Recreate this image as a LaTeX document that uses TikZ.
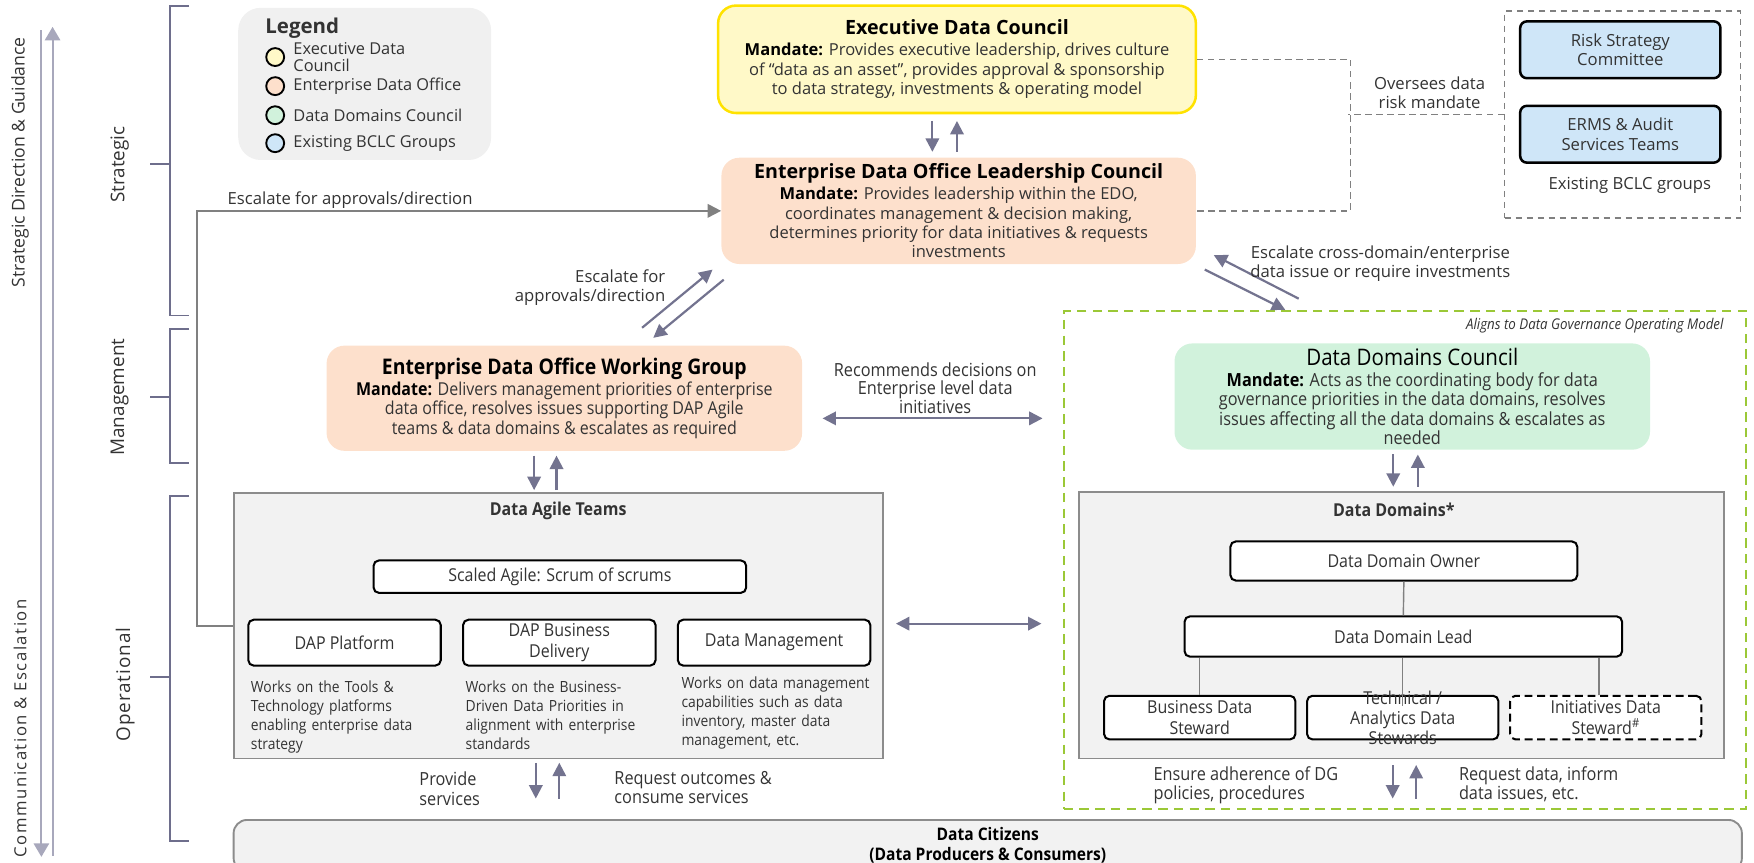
\documentclass[tikz,border=0pt]{standalone}
\usepackage{fontspec}
\setmainfont{Open Sans}
\newfontfamily\narrowfont[FakeStretch=0.9]{Open Sans}
\usetikzlibrary{arrows.meta,calc,positioning}

\definecolor{edcyellow}{RGB}{255,249,200}
\definecolor{edcborder}{RGB}{255,226,0}
\definecolor{edopeach}{RGB}{253,224,204}
\definecolor{ddcgreen}{RGB}{209,242,220}
\definecolor{bclcblue}{RGB}{207,230,248}
\definecolor{panelgrey}{RGB}{242,242,242}
\definecolor{legendgrey}{RGB}{240,240,240}
\definecolor{panelborder}{RGB}{140,140,140}
\definecolor{arrowslate}{RGB}{115,115,143}
\definecolor{bracketslate}{RGB}{110,110,140}
\definecolor{longarrow}{RGB}{168,168,188}
\definecolor{dashgrey}{RGB}{128,128,128}
\definecolor{govgreen}{RGB}{155,200,55}
\definecolor{textdark}{RGB}{51,51,51}

\begin{document}
\begin{tikzpicture}[x=0.025cm,y=-0.025cm,>={Triangle[length=0.3cm,width=0.3cm]}]
    \tikzstyle{council}=[rectangle,rounded corners=0.4cm,inner sep=0pt,align=center,
    text=textdark,minimum width=10.6cm,minimum height=2.375cm,font=\fontsize{10.5}{12.3}\selectfont]
    \tikzstyle{panel}=[rectangle,fill=panelgrey,draw=panelborder,line width=1.2pt,inner sep=0pt]
    \tikzstyle{unit}=[rectangle,rounded corners=0.12cm,draw=black,line width=1.3pt,fill=white,
    inner sep=0pt,align=center,text=textdark,font=\narrowfont\fontsize{11.3}{12.8}\selectfont]
    \tikzstyle{desc}=[anchor=north west,inner sep=0pt,text width=4.4cm,align=left,
    text=textdark,font=\narrowfont\fontsize{9.8}{12.1}\selectfont]
    \tikzstyle{txt}=[inner sep=0pt,align=center,text=textdark,font=\fontsize{10.6}{12}\selectfont]
    \tikzstyle{ntxt}=[inner sep=0pt,align=left,text=textdark,font=\narrowfont\fontsize{11.5}{12.3}\selectfont]
    \tikzstyle{arr}=[->,draw=arrowslate,line width=1.4pt]
    \tikzstyle{arr2}=[<->,draw=arrowslate,line width=1.4pt]
    \tikzstyle{esc}=[->,draw=dashgrey,line width=1.3pt]
    \tikzstyle{dgrey}=[draw=dashgrey,line width=0.9pt,dash pattern=on 4pt off 3pt]
    \tikzstyle{longarr}=[-{Triangle[length=0.3cm,width=0.34cm]},draw=longarrow,line width=1.3pt]
    \tikzstyle{bracket}=[draw=bracketslate,line width=1.2pt]
    \tikzstyle{tier}=[rotate=90,inner sep=0pt,text=textdark,font=\fontsize{12}{14}\selectfont]
    \tikzstyle{side}=[rotate=90,inner sep=0pt,text=textdark,font=\fontsize{11.2}{13}\selectfont]
    \tikzstyle{legdot}=[circle,draw=black,line width=1.2pt,minimum size=0.4cm,inner sep=0pt]
    \tikzstyle{legtxt}=[inner sep=0pt,align=left,text=textdark,font=\fontsize{10.4}{10.5}\selectfont]
    \tikzstyle{member}=[rectangle,rounded corners=0.15cm,fill=bclcblue,draw=black,line width=1.6pt,
    inner sep=0pt,align=center,minimum width=4.475cm,minimum height=1.27cm,text=textdark,
    font=\fontsize{10.6}{12.5}\selectfont]
    \tikzstyle{steward}=[unit,minimum width=4.275cm,minimum height=0.975cm]
    \tikzstyle{tree}=[draw=dashgrey,line width=0.9pt]

    \useasboundingbox (0,0) rectangle (1568,771);

    % direction arrows on the far left
    \coordinate (guide_bot) at (47,765);
    \coordinate (guide_top) at (47,24);
    \coordinate (comm_top) at (37,27);
    \coordinate (comm_bot) at (37,766);
    \draw[longarr] (guide_bot) -- (guide_top);
    \draw[longarr] (comm_top) -- (comm_bot);
    \node[side](guide) at (18,145) {Strategic Direction \& Guidance};
    \node[side,font=\fontsize{10.6}{12}\selectfont\addfontfeature{LetterSpace=9}](comm) at (18,651) {Communication \& Escalation};

    % tiers
    \draw[bracket] (169,5) -- (152,5) -- (152,282) -- (169,282);
    \draw[bracket] (152,147) -- (134,147);
    \node[tier](strategic) at (107,147) {Strategic};
    \draw[bracket] (169,294) -- (152,294) -- (152,414) -- (169,414);
    \draw[bracket] (152,355) -- (134,355);
    \node[tier](management) at (107,355) {Management};
    \draw[bracket] (169,443) -- (152,443) -- (152,752) -- (169,752);
    \draw[bracket] (152,605) -- (134,605);
    \node[tier,font=\fontsize{12}{14}\selectfont\addfontfeature{LetterSpace=5}](operational) at (112,612) {Operational};

    % legend
    \node[rectangle,rounded corners=0.5cm,fill=legendgrey,minimum width=5.65cm,minimum height=3.4cm](legend) at (326,75) {};
    \node[inner sep=0pt,anchor=west,font=\fontsize{13}{15}\selectfont\bfseries,text=textdark](leg_title) at (237,25) {Legend};
    \node[legdot,fill=edcyellow](leg_edc) at (246,51) {};
    \node[legtxt,right=0.18cm of leg_edc](leg_edc_txt) {Executive Data\\Council};
    \node[legdot,fill=edopeach](leg_edo) at (246,77) {};
    \node[legtxt,right=0.18cm of leg_edo](leg_edo_txt) {Enterprise Data Office};
    \node[legdot,fill=ddcgreen](leg_ddc) at (246,103) {};
    \node[legtxt,right=0.18cm of leg_ddc](leg_ddc_txt) {Data Domains Council};
    \node[legdot,fill=bclcblue](leg_bclc) at (246,128) {};
    \node[legtxt,right=0.18cm of leg_bclc](leg_bclc_txt) {Existing BCLC Groups};

    % councils
    \node[council,fill=edcyellow,draw=edcborder,line width=1.6pt,minimum width=10.675cm,minimum height=2.4cm](edc) at (855.5,53)
    {{\fontsize{12.5}{15}\selectfont\bfseries\color{black}Executive Data Council}\\[1pt]
    {\color{black}\bfseries Mandate:} Provides executive leadership, drives culture\\
    of “data as an asset”, provides approval \& sponsorship\\
    to data strategy, investments \& operating model};
    \node[council,fill=edopeach](edolc) at (857,188.5)
    {{\fontsize{12.5}{15}\selectfont\bfseries\color{black}Enterprise Data Office Leadership Council}\\[1pt]
    {\color{black}\bfseries Mandate:} Provides leadership within the EDO,\\
    coordinates management \& decision making,\\
    determines priority for data initiatives \& requests\\
    investments};
    \node[council,fill=edopeach,minimum width=10.625cm,minimum height=2.35cm,font=\narrowfont\fontsize{11.3}{12.4}\selectfont](edowg) at (504.5,356)
    {{\fontsize{13.7}{16}\selectfont\bfseries\color{black}Enterprise Data Office Working Group}\\[1pt]
    {\color{black}\bfseries Mandate:} Delivers management priorities of enterprise\\
    data office, resolves issues supporting DAP Agile\\
    teams \& data domains \& escalates as required};

    % existing BCLC groups
    \node[rectangle,dgrey,minimum width=5.275cm,minimum height=4.625cm](bclc) at (1450.5,102.5) {};
    \node[member](risk) at (1448.5,44.5) {Risk Strategy\\Committee};
    \node[member](erms) at (1448.5,120) {ERMS \& Audit\\Services Teams};
    \node[txt](bclc_lbl) at (1457,166) {Existing BCLC groups};
    \draw[dgrey] (edc.east) -- ++(137,0) |- (edolc.east);
    \draw[dgrey] (bclc.west) -- ++(-139,0);
    \node[txt](oversee) at (1278,83) {Oversees data\\risk mandate};

    % data governance side
    \node[rectangle,draw=govgreen,line width=1.3pt,dash pattern=on 6pt off 4pt,minimum width=15.25cm,minimum height=11.125cm](gdg) at (1256,500.5) {};
    \node[ntxt,anchor=east,font=\narrowfont\itshape\fontsize{9.4}{11}\selectfont](gdg_lbl) at (1541,291) {Aligns to Data Governance Operating Model};
    \node[council,fill=ddcgreen,minimum width=10.625cm,font=\narrowfont\fontsize{11.5}{12.3}\selectfont](ddc) at (1262.5,354.5)
    {{\fontsize{14.5}{16}\selectfont\color{black}Data Domains Council}\\[1pt]
    {\color{black}\bfseries Mandate:} Acts as the coordinating body for data\\
    governance priorities in the data domains, resolves\\
    issues affecting all the data domains \& escalates as\\
    needed};

    \node[panel,minimum width=14.4cm,minimum height=5.95cm](dd) at (1253,559) {};
    \node[ntxt,font=\narrowfont\bfseries\fontsize{11.3}{13}\selectfont](dd_title) at (1246,456) {Data Domains*};
    \node[unit,minimum width=7.75cm,minimum height=0.875cm](ddo) at (1255,501.5) {Data Domain Owner};
    \node[unit,minimum width=9.775cm,minimum height=0.9cm](ddl) at (1254.5,569) {Data Domain Lead};
    \node[steward](bds) at (1072.5,641.5) {Business Data\\Steward};
    \node[steward](tech) at (1254,641.5) {};
    \node[ntxt,align=center,font=\narrowfont\fontsize{11.3}{12.8}\selectfont](tech_txt) at (tech) {Technical /\\Analytics Data\\Stewards};
    \node[steward,dash pattern=on 5pt off 3pt](init) at (1435.5,641.5) {Initiatives Data\\Steward\textsuperscript{\#}};
    \draw[tree] (ddo.south) -- (ddl.north);
    \draw[tree] (ddl.south -| bds.north) -- (bds.north);
    \draw[tree] (ddl.south -| tech.north) -- ($(tech.north)+(0,10)$);
    \draw[tree] ($(ddl.south -| init.north)+(-6,0)$) -- ($(init.north)+(-6,0)$);

    % data agile teams
    \node[panel,minimum width=14.5cm,minimum height=5.925cm](dat) at (499,559.5) {};
    \node[ntxt,font=\narrowfont\bfseries\fontsize{11.3}{13}\selectfont](dat_title) at (499,457) {Data Agile Teams};
    \node[unit,minimum width=8.325cm,minimum height=0.725cm](safe) at (500.5,515.5) {Scaled Agile: Scrum of scrums};
    \node[unit,minimum width=4.3cm,minimum height=1.025cm](dap_plat) at (308,574.5) {DAP Platform};
    \node[unit,minimum width=4.3cm,minimum height=1.025cm](dap_bus) at (500,574.5) {DAP Business\\Delivery};
    \node[unit,minimum width=4.3cm,minimum height=1.025cm](data_mgmt) at (692,574.5) {Data Management};
    \node[desc](dap_plat_txt) at (224,608) {Works on the Tools \&\\Technology platforms\\enabling enterprise data\\strategy};
    \node[desc](dap_bus_txt) at (416,608) {Works on the Business-\\Driven Data Priorities in\\alignment with enterprise\\standards};
    \node[desc](data_mgmt_txt) at (609,605) {Works on data management\\capabilities such as data\\inventory, master data\\management, etc.};

    % data citizens
    \node[panel,rounded corners=0.3cm,minimum width=33.7cm,minimum height=1.15cm,align=center,
    font=\narrowfont\bfseries\fontsize{11}{12.8}\selectfont](citizens) at (883,756) {Data Citizens\\(Data Producers \& Consumers)};

    % escalation paths
    \draw[esc] (dat.west) -- ++(-32,0) |- (edolc.west);
    \node[txt](esc_lbl) at (313,179) {Escalate for approvals/direction};
    \draw[arr] ($(edc.south)+(-22,6)$) -- ($(edolc.north -| edc.south)+(-22,-5)$);
    \draw[arr] ($(edolc.north -| edc.south)+(0,-5)$) -- ($(edc.south)+(0,6)$);

    \coordinate (wg_up_s) at (574,293);
    \coordinate (wg_up_e) at (637,241);
    \coordinate (wg_dn_s) at (647,250);
    \coordinate (wg_dn_e) at (584,302);
    \draw[arr] (wg_up_s) -- (wg_up_e);
    \draw[arr] (wg_dn_s) -- (wg_dn_e);
    \node[txt,align=right,anchor=east](esc2_lbl) at (595,257) {Escalate for\\approvals/direction};

    \coordinate (dom_up_s) at (1161,267);
    \coordinate (dom_up_e) at (1085,228);
    \coordinate (dom_dn_s) at (1077,241);
    \coordinate (dom_dn_e) at (1149,277);
    \draw[arr] (dom_up_s) -- (dom_up_e);
    \draw[arr] (dom_dn_s) -- (dom_dn_e);
    \node[txt](esc3_lbl) at (1234,236) {Escalate cross-domain/enterprise\\data issue or require investments};

    \draw[arr2] ($(edowg.east)+(18,18)$) -- ($(edowg.east -| gdg.west)+(-18,18)$);
    \node[ntxt,align=center,font=\narrowfont\fontsize{11.5}{11.6}\selectfont](rec_lbl) at (836,347) {Recommends decisions on\\Enterprise level data\\initiatives};
    \draw[arr2] ($(dat.east)+(11,-2)$) -- ($(dat.east -| gdg.west)+(-19,-2)$);

    \draw[arr] ($(edowg.south)+(-27,4)$) -- ($(dat.north -| edowg.south)+(-27,-2)$);
    \draw[arr] ($(dat.north -| edowg.south)+(-7,-2)$) -- ($(edowg.south)+(-7,4)$);
    \draw[arr] ($(ddc.south)+(-17,4)$) -- ($(dd.north -| ddc.south)+(-17,-4)$);
    \draw[arr] ($(dd.north -| ddc.south)+(5,-4)$) -- ($(ddc.south)+(5,4)$);

    % service flows
    \draw[arr] ($(dat.south)+(-20,3)$) -- ($(dat.south)+(-20,35)$);
    \draw[arr] ($(dat.south)+(1,35)$) -- ($(dat.south)+(1,3)$);
    \node[ntxt](provide) at (402,705) {Provide\\services};
    \node[ntxt,anchor=west](request) at (549,704) {Request outcomes \&\\consume services};
    \draw[arr] ($(dd.south)+(-8,5)$) -- ($(dd.south)+(-8,35)$);
    \draw[arr] ($(dd.south)+(13,35)$) -- ($(dd.south)+(13,5)$);
    \node[ntxt,anchor=west](ensure) at (1031,702) {Ensure adherence of DG\\policies, procedures};
    \node[ntxt,anchor=west](req_data) at (1304,701) {Request data, inform\\data issues, etc.};
\end{tikzpicture}
\end{document}
